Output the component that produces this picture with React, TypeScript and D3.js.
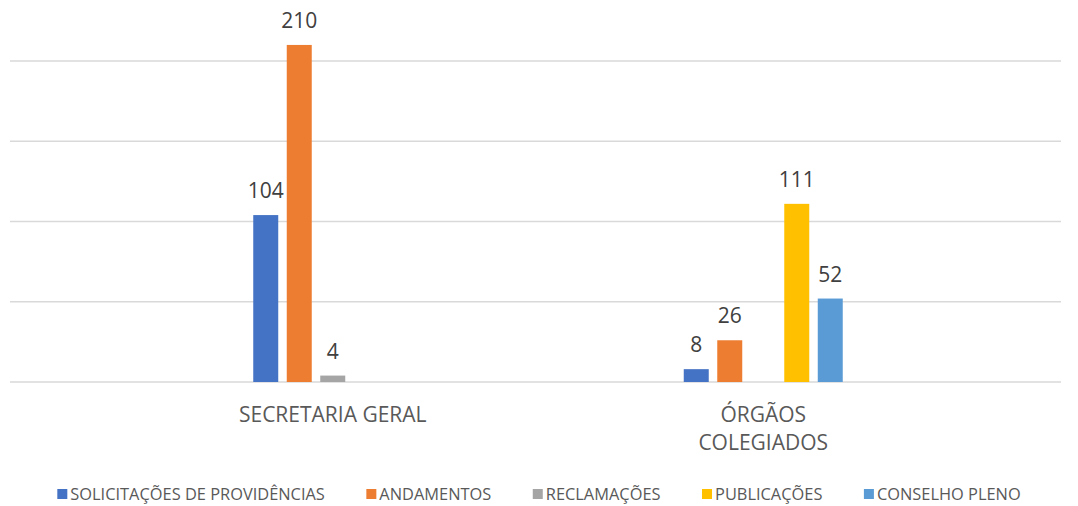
import React, { useEffect, useRef } from 'react';
import * as d3 from 'd3';

const categories = ['SECRETARIA GERAL', 'ÓRGÃOS COLEGIADOS'];
const categoryLines = [['SECRETARIA GERAL'], ['ÓRGÃOS', 'COLEGIADOS']];
const seriesNames = ['SOLICITAÇÕES DE PROVIDÊNCIAS', 'ANDAMENTOS', 'RECLAMAÇÕES', 'PUBLICAÇÕES', 'CONSELHO PLENO'];
const seriesColors = ['#4472C4', '#ED7D31', '#A5A5A5', '#FFC000', '#5B9BD5'];
// values per category, in series order (null = no bar)
const secretariaGeral = [104, 210, 4, null, null];
const orgaosColegiados = [8, 26, null, 111, 52];
const yTicks = [0, 50, 100, 150, 200];

const W = 1078;
const H = 506;
const FONT = '"Open Sans", "DejaVu Sans", sans-serif';

const App = () => {
  const ref = useRef<SVGSVGElement>(null);

  useEffect(() => {
    const svg = d3.select(ref.current);
    svg.selectAll('*').remove();

    const rows = [secretariaGeral, orgaosColegiados];

    const y = d3.scaleLinear().domain([0, 200]).range([382, 61]);
    const x0 = d3.scaleBand().domain(categories).range([117.5, 978.5]);
    const x1 = d3.scaleBand().domain(seriesNames).range([0, 159]).paddingInner(0.254);

    // gridlines
    svg.append('g')
      .selectAll('line')
      .data(yTicks)
      .join('line')
      .attr('x1', 10)
      .attr('x2', 1061)
      .attr('y1', d => y(d))
      .attr('y2', d => y(d))
      .attr('stroke', '#d9d9d9')
      .attr('stroke-width', 1.3);

    // bars
    categories.forEach((cat, ci) => {
      const gx = x0(cat)! + x0.bandwidth() / 2 - 79.5;
      const g = svg.append('g').attr('transform', `translate(${gx},0)`);
      const items = seriesNames
        .map((s, si) => ({ s, v: rows[ci][si], c: seriesColors[si] }))
        .filter(d => d.v !== null) as { s: string; v: number; c: string }[];

      g.selectAll('rect')
        .data(items)
        .join('rect')
        .attr('x', d => x1(d.s)!)
        .attr('width', x1.bandwidth())
        .attr('y', d => y(d.v))
        .attr('height', d => y(0) - y(d.v))
        .attr('fill', d => d.c);

      g.selectAll('text')
        .data(items)
        .join('text')
        .attr('x', d => x1(d.s)! + x1.bandwidth() / 2)
        .attr('y', d => y(d.v) - 17)
        .attr('text-anchor', 'middle')
        .attr('font-family', FONT)
        .attr('font-size', 21)
        .attr('fill', '#404040')
        .text(d => d.v);
    });

    // category labels
    categories.forEach((cat, ci) => {
      const cx = x0(cat)! + x0.bandwidth() / 2;
      svg.append('text')
        .attr('x', cx)
        .attr('y', 422)
        .attr('text-anchor', 'middle')
        .attr('font-family', FONT)
        .attr('font-size', 21)
        .attr('fill', '#595959')
        .selectAll('tspan')
        .data(categoryLines[ci])
        .join('tspan')
        .attr('x', cx)
        .attr('dy', (d, i) => (i === 0 ? 0 : 28))
        .text(d => d);
    });

    // legend
    const lg = svg.append('g');
    const items = lg.selectAll('g')
      .data(seriesNames)
      .join('g');
    items.append('rect')
      .attr('width', 10)
      .attr('height', 10)
      .attr('y', -11)
      .attr('fill', (d, i) => seriesColors[i]);
    const texts = items.append('text')
      .attr('x', 13)
      .attr('font-family', FONT)
      .attr('font-size', 16.4)
      .attr('fill', '#595959')
      .text(d => d);
    const widths: number[] = [];
    texts.each(function () {
      widths.push((this as SVGTextElement).getComputedTextLength());
    });
    const gap = 41.5;
    const itemW = widths.map(w => 13 + w);
    const total = d3.sum(itemW) + gap * (itemW.length - 1);
    let cur = W / 2 - total / 2;
    const xs: number[] = [];
    itemW.forEach(w => { xs.push(cur); cur += w + gap; });
    items.attr('transform', (d, i) => `translate(${xs[i]},500)`);
  }, []);

  return (
    <svg
      ref={ref}
      width={W}
      height={H}
      style={{ position: 'absolute', left: 0, top: 0, background: '#fff' }}
    />
  );
};

export default App;
